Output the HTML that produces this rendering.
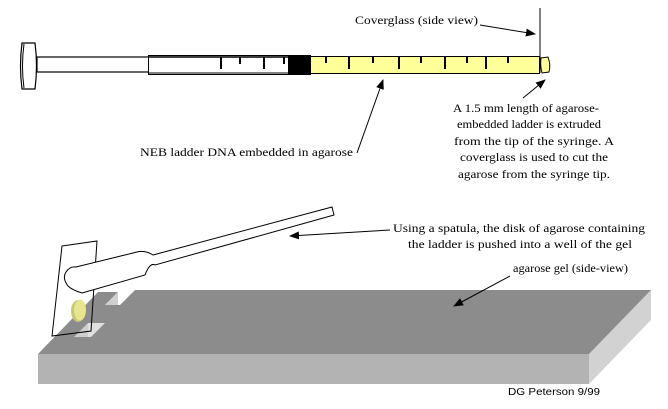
<!DOCTYPE html>
<html><head><meta charset="utf-8"><style>
html,body{margin:0;padding:0;background:#fff;}
svg{display:block;}
text{font-family:"Liberation Serif",serif;font-size:12px;fill:#000;}
</style></head><body>
<svg width="668" height="409" viewBox="0 0 668 409" xmlns="http://www.w3.org/2000/svg">
<defs>
<marker id="ah" markerWidth="10" markerHeight="8" refX="9" refY="4" orient="auto" markerUnits="userSpaceOnUse">
<path d="M0,0 L10,4 L0,8 z" fill="#000"/></marker>
</defs>
<!-- syringe -->
<rect x="37" y="57" width="112" height="15" fill="#fff" stroke="#000" stroke-width="1.2"/>
<path d="M22,43 L35,43 Q38,66 35,89 L22,89 Q19,66 22,43 z" fill="#fff" stroke="#000" stroke-width="1.2"/>
<path d="M24,44 Q21,66 24,88" fill="none" stroke="#000"/>
<rect x="148.5" y="55.5" width="162" height="19" fill="#fff" stroke="#000"/>
<line x1="149" y1="57" x2="310" y2="57" stroke="#000" stroke-width="1.5"/>
<line x1="149" y1="73" x2="310" y2="73" stroke="#000" stroke-width="1"/>
<rect x="288" y="56" width="22" height="18" fill="#000"/>
<g stroke="#000" stroke-width="2">
<line x1="221" y1="57" x2="221" y2="69"/><line x1="240" y1="57" x2="240" y2="64"/>
<line x1="264" y1="57" x2="264" y2="69"/><line x1="284" y1="57" x2="284" y2="64"/>
</g>
<rect x="310.5" y="56.5" width="229" height="17" fill="#ffff99" stroke="#000"/>
<g stroke="#000" stroke-width="2">
<line x1="326" y1="57" x2="326" y2="63"/><line x1="349" y1="57" x2="349" y2="69"/>
<line x1="373" y1="57" x2="373" y2="63"/><line x1="399" y1="57" x2="399" y2="69"/>
<line x1="421" y1="57" x2="421" y2="63"/><line x1="445" y1="57" x2="445" y2="69"/>
<line x1="467" y1="57" x2="467" y2="63"/><line x1="486" y1="57" x2="486" y2="69"/>
<line x1="508" y1="57" x2="508" y2="63"/>
</g>
<path d="M541,58 L548,57 Q551,65 549,72 L542,73 Q540,65 541,58 z" fill="#ffff99" stroke="#000"/>
<line x1="540" y1="8" x2="540" y2="73" stroke="#000"/>
<!-- labels top -->
<text x="355" y="24" textLength="123" lengthAdjust="spacingAndGlyphs">Coverglass (side view)</text>
<line x1="480" y1="25" x2="535" y2="34" stroke="#000" marker-end="url(#ah)"/>
<text x="140" y="156" textLength="213" lengthAdjust="spacingAndGlyphs">NEB ladder DNA embedded in agarose</text>
<line x1="357" y1="153" x2="383" y2="80" stroke="#000" marker-end="url(#ah)"/>
<text x="453" y="112" textLength="146" lengthAdjust="spacingAndGlyphs">A 1.5 mm length of agarose-</text>
<text x="457" y="128" textLength="144" lengthAdjust="spacingAndGlyphs">embedded ladder is extruded</text>
<text x="454" y="145" textLength="160" lengthAdjust="spacingAndGlyphs">from the tip of the syringe.  A</text>
<text x="460" y="161" textLength="148" lengthAdjust="spacingAndGlyphs">coverglass is used to cut the</text>
<text x="458" y="178" textLength="152" lengthAdjust="spacingAndGlyphs">agarose from the syringe tip.</text>
<line x1="523" y1="98" x2="545" y2="80" stroke="#000" marker-end="url(#ah)"/>
<!-- gel -->
<polygon points="38,354 589,354 589,384 38,384" fill="#b3b3b3"/>
<polygon points="589,354 651,290 651,320 589,384" fill="#d2d2d2"/>
<polygon points="38,354 98,292 118,292 105,305 120,305 135,290 651,290 589,354" fill="#8c8c8c"/>
<polygon points="105,305 118,292 118,305" fill="#d0d0d0"/>
<polygon points="74,337 88,323 105,323 91,337" fill="#8c8c8c"/>
<polygon points="74,337 88,323 88,337" fill="#cfcfcf"/>
<polygon points="88,323 105,323 91,337 88,337" fill="#e0e0e0"/>
<!-- coverglass by gel -->
<polygon points="62,246 97,241 91,331 52,336" fill="none" stroke="#000" stroke-width="1"/>
<ellipse cx="78" cy="311" rx="7" ry="11" fill="#c8c870"/>
<ellipse cx="80" cy="310" rx="6" ry="10.5" fill="#e6e68c"/>
<!-- spatula -->
<path d="M153,255 L332,207 L334,215 L155,265 Q150,262 145,275 L82,293 Q72,290 68,286 Q62,278 66,272 Q70,266 76,267 L137,252 Q145,250 153,255 z" fill="#fff" stroke="#000" stroke-width="1"/>
<text x="393" y="232" textLength="252" lengthAdjust="spacingAndGlyphs">Using a spatula, the disk of agarose containing</text>
<text x="408" y="248" textLength="224" lengthAdjust="spacingAndGlyphs">the ladder is pushed into a well of the gel</text>
<line x1="390" y1="230" x2="290" y2="236" stroke="#000" marker-end="url(#ah)"/>
<text x="513" y="272" textLength="115" lengthAdjust="spacingAndGlyphs">agarose gel (side-view)</text>
<line x1="510" y1="276" x2="454" y2="306" stroke="#000" marker-end="url(#ah)"/>
<text x="508" y="395" style="font-family:'Liberation Sans',sans-serif;font-size:10px" textLength="92" lengthAdjust="spacingAndGlyphs">DG Peterson 9/99</text>
</svg>
</body></html>
